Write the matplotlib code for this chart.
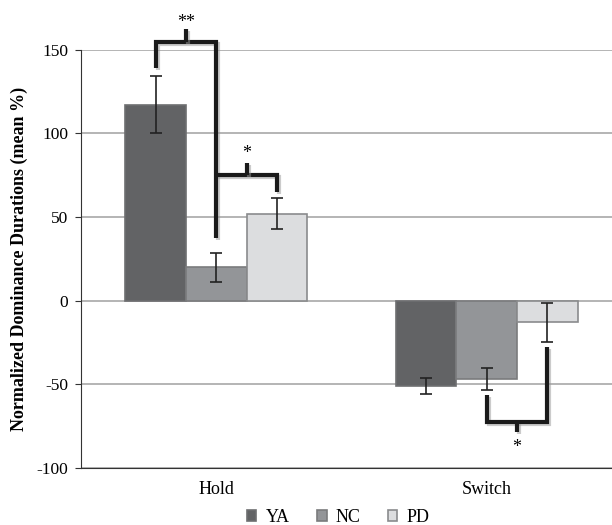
import numpy as np
import matplotlib
matplotlib.use("Agg")
import matplotlib.pyplot as plt
import matplotlib.patheffects as pe

plt.rcParams['font.family'] = ['Liberation Serif', 'DejaVu Serif']
plt.rcParams['axes.unicode_minus'] = False

categories = ["Hold", "Switch"]
groups = ["YA", "NC", "PD"]
means = {"YA": [117, -51], "NC": [20, -47], "PD": [52, -13]}
errors = {"YA": [17, 5], "NC": [8.7, 6.5], "PD": [9, 11.5]}
colors = {"YA": "#626365", "NC": "#939598", "PD": "#dcdddf"}
edges = {"YA": "#6e6f71", "NC": "#7a7b7d", "PD": "#8a8b8d"}

# significance brackets: (category, left group, right group, left leg end, right leg end, bar level, tick end, label, label y)
brackets = [
    (0, 0, 1, 139, 37.4, 154.5, 162, "**", 166),
    (0, 1, 2, 75, 65, 75, 82, "*", 88),
    (1, 1, 2, -56.4, -27.7, -72.5, -78.5, "*", -88),
]

fig = plt.figure(figsize=(6.12, 5.25), dpi=100)
ax = fig.add_axes([81/612, 1-468/525, 536/612, (468-49.5)/525])

x = np.arange(len(categories))
w = 0.224
offsets = [-w, 0, w]
bars = []
for g, off in zip(groups, offsets):
    b = ax.bar(x + off, means[g], w, color=colors[g], edgecolor=edges[g], linewidth=1.2, zorder=3, label=g)
    ax.errorbar(x + off, means[g], yerr=errors[g], fmt='none', ecolor='#222222', elinewidth=1.2,
                capsize=4, capthick=1.2, zorder=4)
    bars.append(b)

shadow = [pe.SimpleLineShadow(offset=(1.5, -1.5), shadow_color='#999999', alpha=0.5), pe.Normal()]
for cat, gl, gr, yl, yr, yb, yt, lab, ly in brackets:
    xl = cat + offsets[gl]
    xr = cat + offsets[gr]
    xm = (xl + xr) / 2
    ax.plot([xl, xl, xr, xr], [yl, yb, yb, yr], color='#1a1a1a', lw=3, solid_joinstyle='miter',
            solid_capstyle='butt', zorder=5, clip_on=False, path_effects=shadow)
    ax.plot([xm, xm], [yb, yt], color='#1a1a1a', lw=3, solid_capstyle='butt', zorder=5,
            clip_on=False, path_effects=shadow)
    ax.text(xm, ly, lab, ha='center', va='center', fontsize=13, zorder=6)

ax.set_xlim(-0.5, 1.5 - 5/268)
ax.set_ylim(-100, 150)
ax.set_yticks([-100, -50, 0, 50, 100, 150])
ax.yaxis.grid(True, color='#a8a8a8', lw=1.2)
ax.set_axisbelow(True)
ax.set_xticks(x)
ax.set_xticklabels(categories, fontsize=13)
ax.tick_params(axis='x', length=0, pad=9)
ax.tick_params(axis='y', labelsize=12.5, length=4, pad=5, direction='out', color='#333333')
ax.spines['top'].set_visible(False)
ax.spines['right'].set_visible(False)
ax.spines['left'].set_color('#333333')
ax.spines['bottom'].set_color('#333333')
ax.set_ylabel("Normalized Dominance Durations (mean %)", fontsize=13, fontweight='bold', labelpad=6)

fig.legend(handles=bars, labels=groups, loc='center', bbox_to_anchor=(338/612, 1-517/525), ncol=3,
           frameon=False, fontsize=13, handlelength=0.55, handleheight=0.55, handletextpad=0.5,
           columnspacing=1.5)

fig.savefig("out.png", dpi=100)
